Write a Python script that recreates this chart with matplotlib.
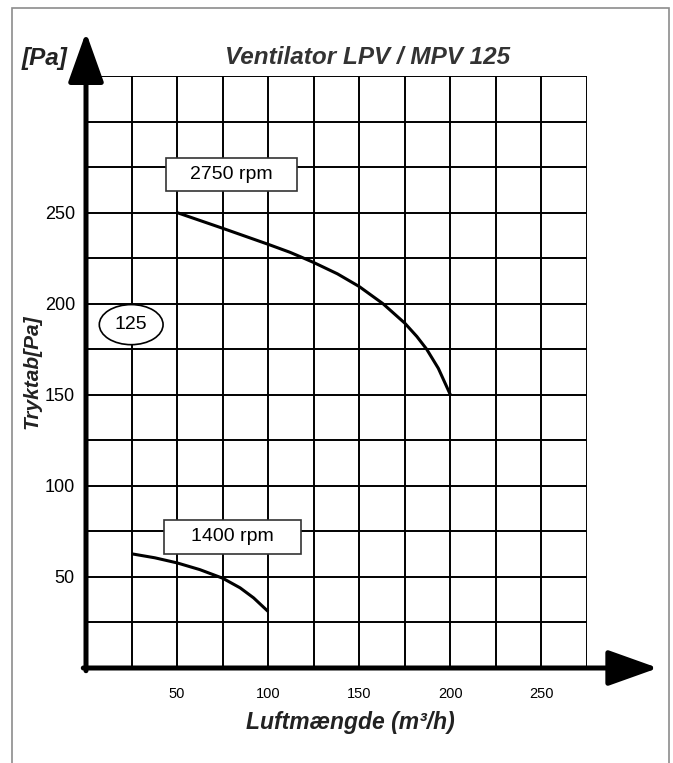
import matplotlib.pyplot as plt
from matplotlib.patches import Ellipse, Rectangle

plt.rcParams['font.family'] = ['Liberation Sans', 'DejaVu Sans']

# Curve data (airflow m3/h, pressure Pa)
flow_2750 = [50, 75, 100, 112, 119.5, 125, 138, 150, 163, 175, 181.6, 187, 193.4, 200]
pa_2750 = [250, 241.4, 232.6, 228.2, 225, 222.6, 216.4, 209.4, 200, 189.3, 182, 175, 164.5, 150]

flow_1400 = [25, 37.8, 50, 62.5, 75, 84.6, 92, 100]
pa_1400 = [62.7, 60.5, 57.7, 54, 49.3, 44, 38.5, 31]

x_ticks = [50, 100, 150, 200, 250]
y_ticks = [50, 100, 150, 200, 250]
x_max, y_max = 275, 325

W, H = 673, 763
fig = plt.figure(figsize=(W / 100, H / 100), dpi=100)

# grey frame, open at the bottom
fig.add_artist(Rectangle((12 / W, -0.05), (669 - 12) / W, 1.05 - 8 / H,
                         transform=fig.transFigure, fill=False,
                         edgecolor='#8c8c8c', lw=1.2))

ax = fig.add_axes([86 / W, (H - 668) / H, (587 - 86) / W, (668 - 76) / H])
ax.set_xlim(0, x_max)
ax.set_ylim(0, y_max)

# grid every 25
for v in range(25, x_max + 1, 25):
    ax.axvline(v, color='black', lw=1.4, zorder=1)
for v in range(25, y_max + 1, 25):
    ax.axhline(v, color='black', lw=1.4, zorder=1)

for s in ax.spines.values():
    s.set_visible(False)
ax.set_xticks(x_ticks)
ax.set_yticks(y_ticks)
ax.tick_params(length=0)
ax.tick_params(axis='x', labelsize=10.5, pad=14)
ax.tick_params(axis='y', labelsize=13, pad=8)

# thick arrow axes
arrow = dict(arrowstyle='-|>,head_length=1.4,head_width=0.5', lw=3.6,
             color='black', shrinkA=0, shrinkB=0, mutation_scale=22)
ax.annotate('', xy=(314, 0), xytext=(-1.5, 0), arrowprops=arrow,
            annotation_clip=False, zorder=5)
ax.annotate('', xy=(0, 349), xytext=(0, -1.5), arrowprops=arrow,
            annotation_clip=False, zorder=5)

# curves
ax.plot(flow_2750, pa_2750, color='black', lw=2.2, zorder=3,
        solid_capstyle='butt', solid_joinstyle='round')
ax.plot(flow_1400, pa_1400, color='black', lw=2.2, zorder=3,
        solid_capstyle='butt', solid_joinstyle='round')

# speed labels in boxes
ax.add_patch(Rectangle((44, 262), 72, 18, fc='white', ec='#333333', lw=1.2,
                       zorder=4))
ax.text(80, 271, '2750 rpm', fontsize=14, ha='center', va='center', zorder=5)
ax.add_patch(Rectangle((43, 62.6), 75, 18.7, fc='white', ec='#333333', lw=1.2,
                       zorder=4))
ax.text(80.5, 72, '1400 rpm', fontsize=14, ha='center', va='center', zorder=5)

ax.add_patch(Ellipse((24.8, 188.5), 35, 22, fc='white', ec='black', lw=1.2,
                     zorder=4))
ax.text(24.8, 188.5, '125', fontsize=14, ha='center', va='center', zorder=5)

ax.set_xlabel('Luftmængde (m³/h)', fontsize=16.5, fontweight='bold',
              fontstyle='italic', color='#222222')
ax.xaxis.set_label_coords(0.527, -0.072)
ax.set_ylabel('Tryktab[Pa]', fontsize=15, fontweight='bold',
              fontstyle='italic', color='#222222')
ax.yaxis.set_label_coords(-0.088, 0.5)

fig.text(368 / W, 1 - 58 / H, 'Ventilator LPV / MPV 125', fontsize=17.5,
         fontweight='bold', fontstyle='italic', color='#333333',
         ha='center', va='center')
fig.text(45 / W, 1 - 58 / H, '[Pa]', fontsize=17.5, fontweight='bold',
         fontstyle='italic', color='#222222', ha='center', va='center')

fig.savefig('out.png', dpi=100)
